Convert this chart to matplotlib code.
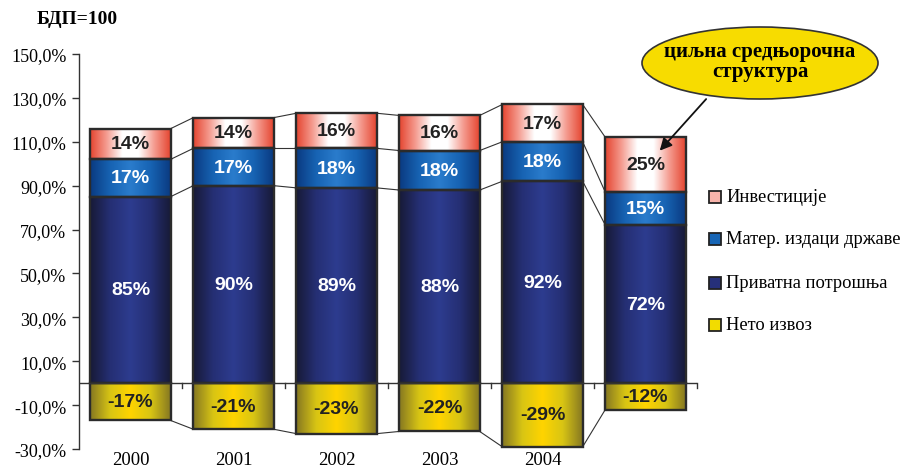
import numpy as np
import matplotlib
matplotlib.use("Agg")
import matplotlib.pyplot as plt
from matplotlib.colors import LinearSegmentedColormap
from matplotlib.patches import Ellipse

# GDP structure (GDP = 100), shares in percent
categories = ["2000", "2001", "2002", "2003", "2004", ""]
private_cons = [85, 90, 89, 88, 92, 72]
gov_spending = [17, 17, 18, 18, 18, 15]
investment = [14, 14, 16, 16, 17, 25]
net_exports = [-17, -21, -23, -22, -29, -12]

series_names = ["Инвестиције", "Матер. издаци државе", "Приватна потрошња", "Нето извоз"]
y_ticks = [-30, -10, 10, 30, 50, 70, 90, 110, 130, 150]

SERIF = ["Liberation Serif", "DejaVu Serif"]
SANS = ["Liberation Sans", "DejaVu Sans"]

# horizontal gradients: edge colour -> centre colour -> edge colour
grad = {
    "inv": ["#e4442f", "#f49a8e", "#ffffff", "#ffffff", "#f49a8e", "#e4442f"],
    "gov": ["#0a3a80", "#1763b3", "#2a7ccc", "#1763b3", "#0a3a80"],
    "priv": ["#171a36", "#252f74", "#2d3c8f", "#252f74", "#171a36"],
    "net": ["#857722", "#d8c514", "#ffd400", "#d8c514", "#857722"],
}
legend_face = {"inv": "#f7b3aa", "gov": "#1765b5", "priv": "#26307a", "net": "#f2dc00"}

fig = plt.figure(figsize=(9.04, 4.77), dpi=100)
ax = fig.add_axes([79 / 904, 1 - 450 / 477, (697 - 79) / 904, (450 - 55) / 477])

x = np.arange(len(categories))
width = 0.78
edge = "#2b2b2b"

priv = np.array(private_cons, float)
gov = np.array(gov_spending, float)
inv = np.array(investment, float)
net = np.array(net_exports, float)

layers = [
    ("net", net, np.zeros_like(net), "#222222"),
    ("priv", priv, np.zeros_like(priv), "white"),
    ("gov", gov, priv, "white"),
    ("inv", inv, priv + gov, "#222222"),
]

ax.set_xlim(-0.5, len(categories) - 0.5)
ax.set_ylim(-30, 150)

for key, vals, base, txtcol in layers:
    cmap = LinearSegmentedColormap.from_list(key, grad[key])
    bars = ax.bar(x, vals, width, bottom=base, color="none", edgecolor=edge,
                  linewidth=1.7, zorder=3)
    g = np.linspace(0, 1, 256).reshape(1, -1)
    for rect, v, b in zip(bars, vals, base):
        x0 = rect.get_x()
        im = ax.imshow(g, cmap=cmap, aspect="auto", zorder=2,
                       extent=[x0, x0 + rect.get_width(), b, b + v],
                       interpolation="bilinear")
        im.set_clip_path(rect)
        ax.text(rect.get_x() + rect.get_width() / 2, b + v / 2, f"{int(v)}%",
                ha="center", va="center", color=txtcol, fontsize=14,
                fontweight="bold", family=SANS, zorder=5)

ax.set_ylim(-30, 150)
ax.set_xlim(-0.5, len(categories) - 0.5)

# connector lines between neighbouring bars
levels = [priv, priv + gov, priv + gov + inv, net]
for lev in levels:
    for i in range(len(x) - 1):
        ax.plot([x[i] + width / 2, x[i + 1] - width / 2], [lev[i], lev[i + 1]],
                color="#333333", lw=0.8, zorder=1)

# axes styling
for s in ["top", "right", "bottom"]:
    ax.spines[s].set_visible(False)
ax.spines["left"].set_color("#333333")
ax.spines["left"].set_linewidth(1.0)
ax.set_yticks(y_ticks)
ax.set_yticklabels([f"{t:.1f}%".replace(".", ",") for t in y_ticks],
                   family=SERIF, fontsize=13)
ax.tick_params(axis="y", length=5, width=1.0, color="#333333", pad=4)
ax.set_xticks([])
ax.axhline(0, color="#333333", lw=1.0, zorder=4)
for b in np.arange(0.5, len(categories), 1.0):
    ax.plot([b, b], [0, -2.3], color="#333333", lw=1.0, zorder=4, clip_on=False)
for xi, lab in zip(x, categories):
    ax.text(xi, -34.8, lab, ha="center", va="center", family=SERIF, fontsize=13.5)

fig.text(37 / 904, 1 - 20 / 477, "БДП=100", family=SERIF, fontsize=14,
         fontweight="bold", ha="left", va="center")

# legend
leg_keys = ["inv", "gov", "priv", "net"]
leg_y = [198, 240, 284, 326]
for k, name, yy in zip(leg_keys, series_names, leg_y):
    fy = 1 - yy / 477
    fig.patches.append(plt.Rectangle((709 / 904, fy - 6 / 477), 12 / 904, 12 / 477,
                                     transform=fig.transFigure, facecolor=legend_face[k],
                                     edgecolor="#222222", lw=1.3))
    fig.text(726 / 904, fy, name, family=SERIF, fontsize=13.3, ha="left", va="center")

# callout
ell = Ellipse((760 / 904, 1 - 64 / 477), 236 / 904, 72 / 477, transform=fig.transFigure,
              facecolor="#f7dc00", edgecolor="#333333", lw=1.2, zorder=10)
fig.patches.append(ell)
fig.text(760 / 904, 1 - 62 / 477, "циљна средњорочна\nструктура", family=SERIF,
         fontsize=15, fontweight="bold", ha="center", va="center", linespacing=0.95,
         zorder=11)
ax.annotate("", xy=(x[-1] + 0.12, 105),
            xytext=(708 / 904, 1 - 98 / 477), textcoords="figure fraction",
            arrowprops=dict(arrowstyle="-|>", color="#111111", lw=1.3,
                            mutation_scale=18), zorder=12)

fig.savefig("out.png", dpi=100)
